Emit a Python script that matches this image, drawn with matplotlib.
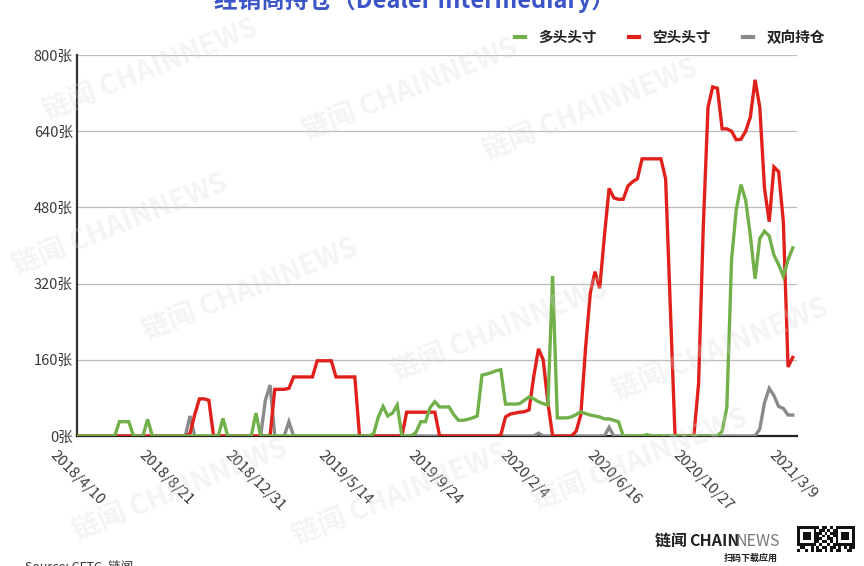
import numpy as np
import pandas as pd
import matplotlib
matplotlib.use('Agg')
import matplotlib.pyplot as plt
from matplotlib.lines import Line2D

plt.rcParams['font.family'] = ['Noto Sans CJK SC', 'DejaVu Sans']

# weekly data, 2018/4/10 .. 2021/3/9
start_date = '2018-04-10'

long_pos = [
    0, 0, 0, 0, 0, 0, 0, 0, 0, 30,
    30, 30, 0, 0, 0, 35, 0, 0, 0, 0,
    0, 0, 0, 0, 0, 0, 0, 0, 0, 0,
    0, 37, 0, 0, 0, 0, 0, 0, 48, 0,
    0, 0, 0, 0, 0, 0, 0, 0, 0, 0,
    0, 0, 0, 0, 0, 0, 0, 0, 0, 0,
    0, 0, 0, 5, 40, 62, 42, 48, 65, 0,
    0, 0, 8, 30, 30, 60, 72, 61, 61, 61,
    45, 33, 33, 35, 38, 42, 128, 130, 133, 137,
    139, 67, 67, 67, 68, 75, 82, 78, 72, 68,
    65, 336, 38, 38, 38, 40, 45, 51, 47, 44,
    42, 40, 36, 36, 33, 30, 0, 0, 0, 0,
    0, 3, 0, 0, 0, 0, 0, 0, 0, 0,
    0, 0, 0, 0, 0, 0, 0, 10, 60, 370,
    475, 528, 495, 420, 330, 415, 430, 420, 380, 360,
    335, 370, 395,
]

short_pos = [
    0, 0, 0, 0, 0, 0, 0, 0, 0, 0,
    0, 0, 0, 0, 0, 0, 0, 0, 0, 0,
    0, 0, 0, 0, 5, 45, 78, 78, 75, 0,
    0, 0, 0, 0, 0, 0, 0, 0, 0, 0,
    0, 0, 98, 98, 98, 100, 124, 124, 124, 124,
    124, 158, 158, 158, 158, 124, 124, 124, 124, 124,
    0, 0, 0, 0, 0, 0, 0, 0, 0, 0,
    50, 50, 50, 50, 50, 50, 50, 0, 0, 0,
    0, 0, 0, 0, 0, 0, 0, 0, 0, 0,
    2, 40, 46, 48, 50, 51, 55, 125, 183, 160,
    70, 0, 0, 0, 0, 0, 10, 45, 185, 300,
    345, 310, 420, 520, 500, 497, 497, 525, 534, 540,
    582, 582, 582, 582, 582, 540, 270, 0, 0, 0,
    0, 0, 110, 440, 690, 733, 730, 645, 645, 640,
    622, 623, 640, 670, 748, 690, 520, 450, 565, 555,
    450, 145, 165,
]

spread_pos = [
    0, 0, 0, 0, 0, 0, 0, 0, 0, 0,
    0, 0, 0, 0, 0, 0, 0, 0, 0, 0,
    0, 0, 0, 0, 42, 0, 0, 0, 0, 0,
    0, 0, 0, 0, 0, 0, 0, 0, 0, 0,
    75, 107, 0, 0, 0, 30, 0, 0, 0, 0,
    0, 0, 0, 0, 0, 0, 0, 0, 0, 0,
    0, 0, 0, 0, 0, 0, 0, 0, 0, 0,
    0, 0, 0, 0, 0, 0, 0, 0, 0, 0,
    0, 0, 0, 0, 0, 0, 0, 0, 0, 0,
    0, 0, 0, 0, 0, 0, 0, 0, 6, 0,
    0, 0, 0, 0, 0, 0, 0, 0, 0, 0,
    0, 0, 0, 18, 0, 0, 0, 0, 0, 0,
    0, 0, 0, 0, 0, 0, 0, 0, 0, 0,
    0, 0, 0, 0, 0, 0, 0, 0, 0, 0,
    0, 0, 0, 0, 0, 15, 70, 100, 85, 62,
    58, 44, 44,
]

series_names = ['多头头寸', '空头头寸', '双向持仓']
series_colors = ['#72b04a', '#e0201b', '#8a8a8a']

tick_labels = ['2018/4/10', '2018/8/21', '2018/12/31', '2019/5/14', '2019/9/24',
               '2020/2/4', '2020/6/16', '2020/10/27', '2021/3/9']
y_ticks = [0, 160, 320, 480, 640, 800]

dates = pd.date_range(start_date, periods=len(long_pos), freq='7D')

fig = plt.figure(figsize=(8.64, 5.66), dpi=100)
ax = fig.add_axes([77 / 864, 1 - 436 / 566, 720 / 864, 381 / 566])

# draw order: gray under red under green
ax.plot(dates, spread_pos, color=series_colors[2], lw=2.4, zorder=3, solid_joinstyle='miter')
ax.plot(dates, short_pos, color=series_colors[1], lw=2.4, zorder=4, solid_joinstyle='miter')
ax.plot(dates, long_pos, color=series_colors[0], lw=2.4, zorder=5, solid_joinstyle='miter')

ax.set_ylim(0, 800)
ax.set_xlim(dates[0], dates[0] + pd.Timedelta(weeks=152.9))
ax.set_yticks(y_ticks)
ax.set_yticklabels([f'{v}张' for v in y_ticks], fontsize=10.5, color='#3a3a3a')
ax.set_xticks(pd.to_datetime(tick_labels, format='%Y/%m/%d'))
ax.set_xticklabels(tick_labels, rotation=-45, ha='center', va='top', fontsize=10.8, color='#3a3a3a')
ax.tick_params(axis='both', length=0)
ax.tick_params(axis='y', pad=3)
ax.tick_params(axis='x', pad=9)

ax.grid(axis='y', color='#bcbcbc', lw=0.9, zorder=1)
ax.set_axisbelow(True)
for s in ['top', 'right']:
    ax.spines[s].set_visible(False)
ax.spines['left'].set_color('#333333')
ax.spines['left'].set_linewidth(1.6)
ax.spines['bottom'].set_color('#222222')
ax.spines['bottom'].set_linewidth(1.6)

handles = [Line2D([], [], color=c, lw=3) for c in series_colors]
leg = fig.legend(handles, series_names, loc='center right', bbox_to_anchor=(838 / 864, 1 - 37 / 566),
                 ncol=3, frameon=False, handlelength=0.7, handletextpad=0.9, columnspacing=2.2,
                 prop={'size': 10.5, 'weight': 'bold'})
for t in leg.get_texts():
    t.set_color('#222222')

# title, cut off at the top edge like the source image
fig.text(414 / 864, 1 - 8 / 566, '经销商持仓（Dealer Intermediary）', ha='center', va='baseline',
         fontsize=17, fontweight='bold', color='#3b55c8')

# watermarks
for wx, wy in [(150, 70), (410, 90), (120, 225), (250, 290), (500, 330), (720, 350),
               (180, 490), (400, 495), (640, 460), (590, 110)]:
    fig.text(wx / 864, 1 - wy / 566, '链闻 CHAINNEWS', ha='center', va='center', rotation=22,
             fontsize=20, fontweight='bold', color='#d8d8d8', alpha=0.28, zorder=0)

# footer
fig.text(25 / 864, -0.004, 'Source: CFTC, 链闻', fontsize=9, color='#333333', va='center')
fig.text(655 / 864, 1 - 541 / 566, '链闻 ', fontsize=11.5, fontweight='bold', color='#222222', va='center')
fig.text(689 / 864, 1 - 541 / 566, 'CHAIN', fontsize=11.5, fontweight='bold', color='#222222', va='center')
fig.text(735 / 864, 1 - 541 / 566, 'NEWS', fontsize=11.5, color='#777777', va='center')
fig.text(778 / 864, 1 - 558 / 566, '扫码下载应用', fontsize=6.5, fontweight='bold', color='#222222',
         va='center', ha='right')

# qr-like mark
qr = fig.add_axes([797 / 864, 0, 58 / 864, 40 / 566])
qr.set_xlim(0, 21)
qr.set_ylim(0, 14)
qr.axis('off')
pattern = [0b110101101011010110101, 0b101100110101101001011, 0b011010011010110110100,
           0b110011010101011001101, 0b100110101100110101011, 0b011011001011010011010,
           0b101010110100101101101, 0b110101011011010100110, 0b011001101010110101001]
for r, bits in enumerate(pattern):
    for c in range(21):
        if (bits >> c) & 1:
            qr.add_patch(plt.Rectangle((c, 13 - r), 1, 1, color='#111111', lw=0))
for cx, cy in [(0, 7), (14, 7)]:
    qr.add_patch(plt.Rectangle((cx, cy), 7, 7, color='#111111', lw=0))
    qr.add_patch(plt.Rectangle((cx + 1, cy + 1), 5, 5, color='white', lw=0))
    qr.add_patch(plt.Rectangle((cx + 2, cy + 2), 3, 3, color='#111111', lw=0))

fig.savefig('out.png', dpi=100)
